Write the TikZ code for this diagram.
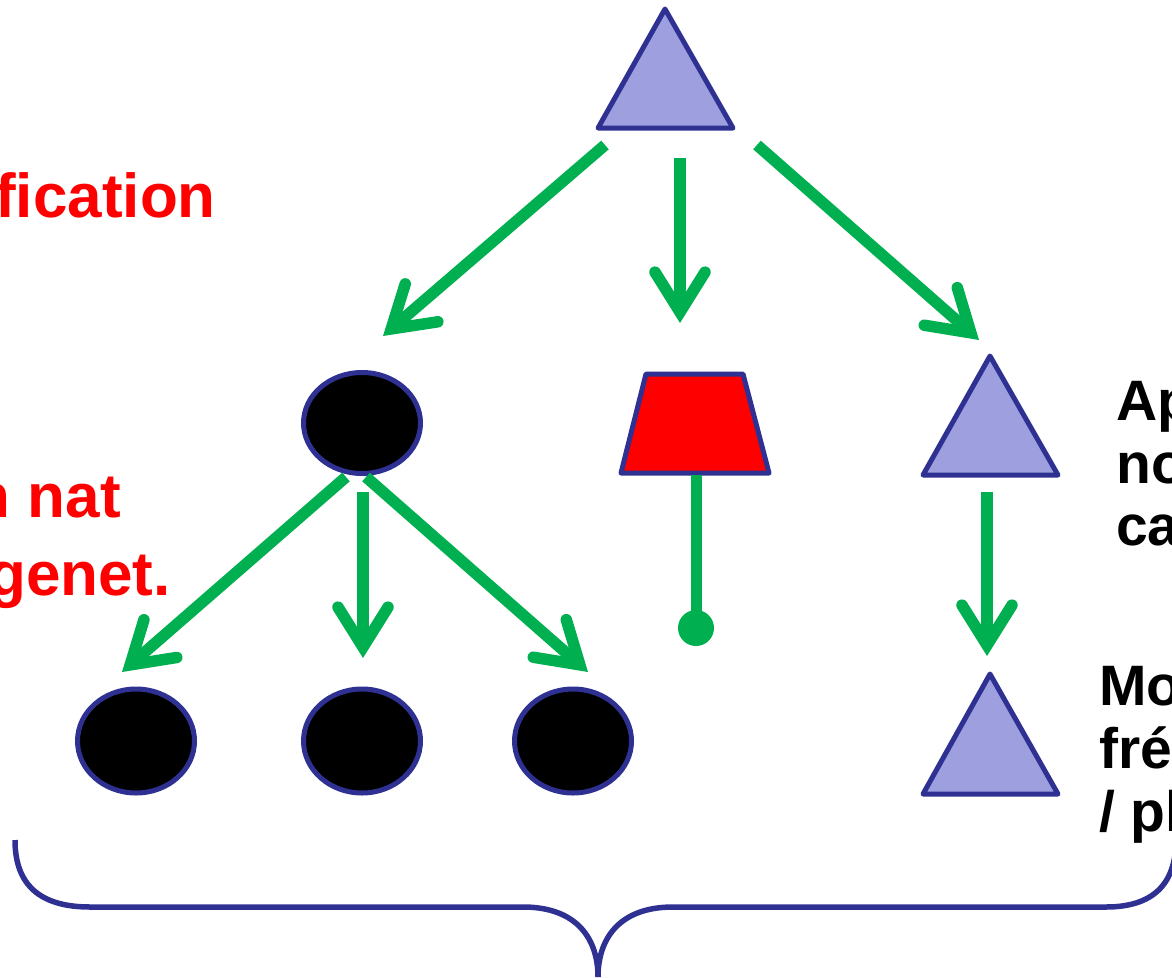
\documentclass[tikz,border=0pt]{standalone}
\usepackage{fontspec}
\setmainfont{Liberation Sans}
\usetikzlibrary{arrows.meta,shapes.geometric}
\definecolor{ggreen}{HTML}{00B050}
\definecolor{dblue}{HTML}{2E3192}
\definecolor{lav}{HTML}{9D9FDE}
\definecolor{rred}{HTML}{FF0000}
\begin{document}
\begin{tikzpicture}[x=1pt,y=-1pt,
 shapeline/.style={draw=dblue,line width=5pt,line join=round},
 tri/.style={shapeline,fill=lav},
 blob/.style={ellipse,shapeline,fill=black,minimum width=117pt,minimum height=101pt,inner sep=0pt},
 conn/.style={draw=ggreen,line width=11.5pt,-{Straight Barb[length=40pt,width=50pt,line cap=round,line join=miter]}},
 redtxt/.style={text=rred,font=\fontsize{62}{70}\selectfont\bfseries,inner sep=0pt,anchor=base east},
 blktxt/.style={text=black,font=\fontsize{57}{63}\selectfont\bfseries,inner sep=0pt,anchor=base west},
]
\useasboundingbox (0,0) rectangle (1172,977);

% triangles
\draw[tri] (665,9) coordinate (t1) -- (733,128) -- (598,128) -- cycle;
\draw[tri] (990,356) coordinate (t2) -- (1058,475) -- (923,475) -- cycle;
\draw[tri] (990,674) coordinate (t3) -- (1058,794) -- (923,794) -- cycle;

% ellipses
\node[blob] (e0) at (362,423) {};
\node[blob,minimum height=104pt] (e1) at (136,741) {};
\node[blob,minimum height=104pt] (e2) at (362,741) {};
\node[blob,minimum height=104pt] (e3) at (573,741) {};

% trapezoid
\draw[shapeline,fill=rred] (646,374) coordinate (trtl) -- (743,374) -- (769,473) -- (621,473) -- cycle;
\coordinate (trb) at (696,475);
\coordinate (dot) at (696,628);
\draw[ggreen,line width=11pt] (trb) -- (dot);
\fill[ggreen] (dot) circle (18pt);

% arrow end points
\coordinate (a1s) at (605,145); \coordinate (a1e) at (383,336);
\coordinate (a2s) at (680,158); \coordinate (a2e) at (680,323);
\coordinate (a3s) at (757,145); \coordinate (a3e) at (979,340);
\coordinate (a4s) at (987,492); \coordinate (a4e) at (987,656);
\coordinate (a5s) at (346,477); \coordinate (a5e) at (122,672);
\coordinate (a6s) at (363,492); \coordinate (a6e) at (363,658);
\coordinate (a7s) at (366,477); \coordinate (a7e) at (588,672);
\foreach \i in {1,...,7} {\draw[conn] (a\i s) -- (a\i e);}

% brace
\coordinate (bl) at (15,840);
\coordinate (bt) at (598,977);
\coordinate (br) at (1176,840);
\draw[dblue,line width=5.5pt] (bl) .. controls (15,885) and (40,907) .. (90,907) -- (523,907)
  .. controls (578,907) and (598,940) .. (bt)
  .. controls (598,940) and (618,907) .. (673,907) -- (1106,907)
  .. controls (1152,907) and (1176,885) .. (br);

% red texts
\node[redtxt] (r1) at (216,217) {fication};
\node[redtxt] (r2) at (121,517) {n nat};
\node[redtxt] (r3) at (171,595) {genet.};

% black texts
\node[blktxt] (b1) at (1116,420) {Ap};
\node[blktxt] (b2) at (1116,483) {no};
\node[blktxt] (b3) at (1116,545) {ca};
\node[blktxt] (b4) at (1099,705) {Mo};
\node[blktxt] (b5) at (1099,768) {fré};
\node[blktxt] (b6) at (1099,831) {/ pl};
\end{tikzpicture}
\end{document}
